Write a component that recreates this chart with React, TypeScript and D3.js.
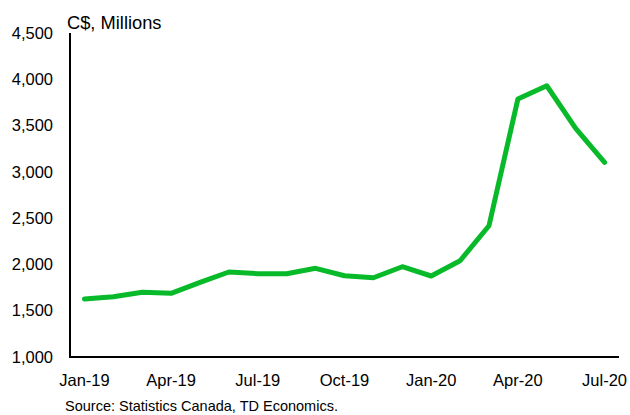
import React from "react";
import * as d3 from "d3";

const months = [
  "Jan-19","Feb-19","Mar-19","Apr-19","May-19","Jun-19","Jul-19","Aug-19","Sep-19","Oct-19","Nov-19","Dec-19",
  "Jan-20","Feb-20","Mar-20","Apr-20","May-20","Jun-20","Jul-20",
];
const values = [1626,1651,1699,1688,1806,1918,1900,1900,1958,1878,1856,1975,1875,2040,2418,3786,3930,3470,3103];
const yTicks = [1000,1500,2000,2500,3000,3500,4000,4500];
const xTickLabels = ["Jan-19","Apr-19","Jul-19","Oct-19","Jan-20","Apr-20","Jul-20"];

const W = 630, H = 415;
const left = 70, right = 619, top = 33, bottom = 357;
const font = "Arial, 'Liberation Sans', sans-serif";

export default function App() {
  const x = d3.scaleBand<string>().domain(months).range([left, right]).padding(0);
  const cx = (m: string) => (x(m) as number) + x.bandwidth() / 2;
  const y = d3.scaleLinear().domain([1000, 4500]).range([bottom, top]);
  const line = d3.line<number>().x((_, i) => cx(months[i])).y((d) => y(d));
  const fmt = d3.format(",");

  return (
    <svg width={W} height={H} style={{ position: "absolute", left: 0, top: 0, background: "#fff" }}>
      <line x1={left} x2={left} y1={top} y2={bottom + 1} stroke="#000" strokeWidth={2} />
      <line x1={left - 1} x2={right} y1={bottom} y2={bottom} stroke="#000" strokeWidth={2} />
      {yTicks.map((t) => (
        <text key={t} x={53} y={y(t)} dy="0.35em" textAnchor="end" fontFamily={font} fontSize={16.5} fill="#000">
          {fmt(t)}
        </text>
      ))}
      {xTickLabels.map((m) => (
        <text key={m} x={cx(m)} y={386} textAnchor="middle" fontFamily={font} fontSize={16.5} fill="#000">
          {m}
        </text>
      ))}
      <text x={67} y={28.5} fontFamily={font} fontSize={18.3} fill="#000">C$, Millions</text>
      <path d={line(values) || ""} fill="none" stroke="#08BA2A" strokeWidth={5} strokeLinejoin="round" strokeLinecap="round" />
      <text x={65} y={411} fontFamily={font} fontSize={14.5} fill="#000">Source: Statistics Canada, TD Economics.</text>
    </svg>
  );
}
